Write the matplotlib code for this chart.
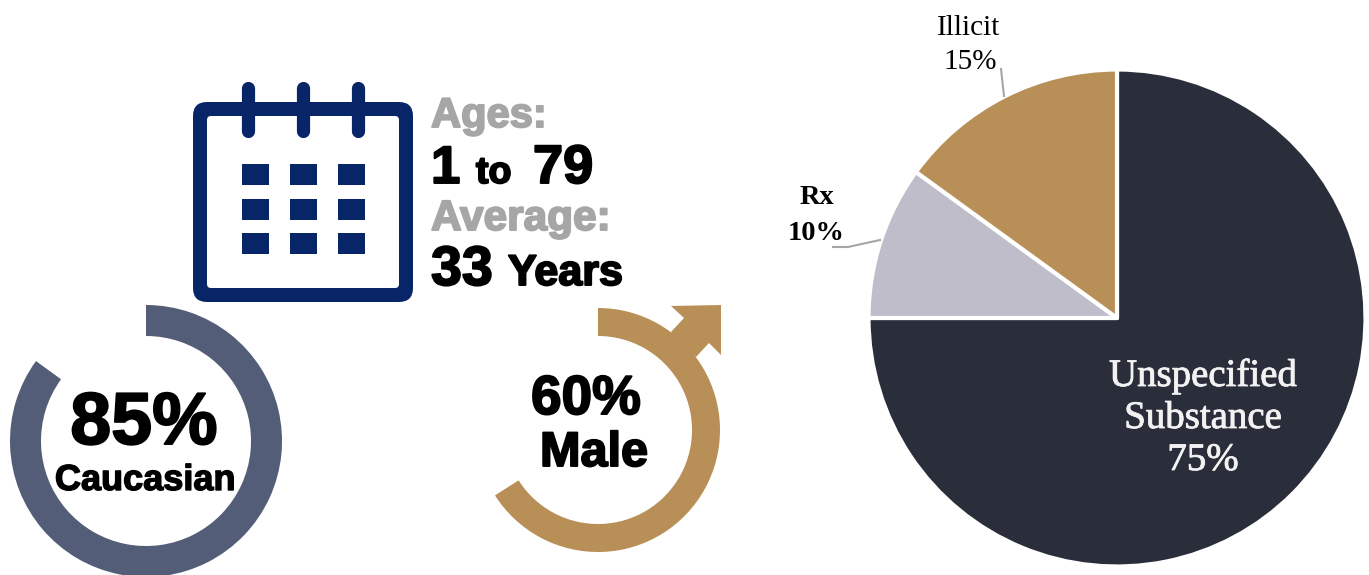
"""Demographics infographic: age, ethnicity, sex and substance type."""
import matplotlib
matplotlib.use("Agg")
import matplotlib.patheffects as pe
import matplotlib.pyplot as plt
from matplotlib.patches import FancyBboxPatch, Polygon, Rectangle

W, H = 1369, 575
NAVY = "#082567"
SLATE = "#535d78"
TAN = "#b98f58"
DARK = "#2a2d3a"
LILAC = "#c0bdcb"
GREY = "#a6a6a6"
SANS = "Liberation Sans"
SERIF = "Liberation Serif"

pie_labels = ["Unspecified Substance", "Rx", "Illicit"]
pie_values = [75, 10, 15]
pie_colors = [DARK, LILAC, TAN]
caucasian_arc = [85, 15]
male_arc = [66, 34]


def y_up(py):
    return H - py


def heavy(ax, x, py, s, size, color="black", ha="left", stroke=1.4):
    # no Arial Black here, so fatten the bold face with a stroke
    ax.text(x, y_up(py), s, fontsize=size, color=color, ha=ha, va="baseline",
            family=SANS, fontweight="bold",
            path_effects=[pe.withStroke(linewidth=stroke, foreground=color)])


def serif(ax, x, py, s, size, color="black", weight="normal", stroke=0.0):
    effects = [pe.withStroke(linewidth=stroke, foreground=color)] if stroke else None
    ax.text(x, y_up(py), s, fontsize=size, color=color, ha="center", va="baseline",
            family=SERIF, fontweight=weight, path_effects=effects)


def ring(ax, values, color, cx, cy, radius, width):
    ax.pie(values, colors=[color, "none"], startangle=90, counterclock=False,
           center=(cx, y_up(cy)), radius=radius, frame=True,
           wedgeprops={"width": width, "linewidth": 0})


def rounded(ax, left, top, right, bottom, r, color):
    ax.add_patch(FancyBboxPatch((left + r, y_up(bottom) + r),
                                right - left - 2 * r, bottom - top - 2 * r,
                                boxstyle=f"round,pad={r},rounding_size={r}",
                                facecolor=color, linewidth=0))


def draw_calendar(ax):
    rounded(ax, 193, 102, 413, 302, 14, NAVY)
    rounded(ax, 207, 116, 399, 288, 4, "white")
    for x in (248, 303, 358):
        ax.plot([x, x], [y_up(88), y_up(131)], color=NAVY, lw=9.5,
                solid_capstyle="round")
    for left in (242, 290, 338):
        for top in (164, 199, 233):
            ax.add_patch(Rectangle((left, y_up(top + 21)), 27, 21,
                                   facecolor=NAVY, linewidth=0))


fig = plt.figure(figsize=(W / 100, H / 100), dpi=100, facecolor="white")
ax = fig.add_axes([0, 0, 1, 1])

ax.pie(pie_values, colors=pie_colors, startangle=90, counterclock=False,
       center=(1117, y_up(318)), radius=248.5, frame=True,
       wedgeprops={"edgecolor": "white", "linewidth": 3, "joinstyle": "round"})
ring(ax, caucasian_arc, SLATE, 146, 441, 136, 31)
ring(ax, male_arc, TAN, 598, 430, 122, 28)

# arrow head on the male symbol
ax.add_patch(Polygon([(x, y_up(py)) for x, py in [
    (671, 306), (721, 305), (721, 355), (709, 343), (696, 357),
    (680, 345), (671, 332), (684, 318)]], facecolor=TAN, linewidth=0))

draw_calendar(ax)

heavy(ax, 431, 127, "Ages:", 30, GREY)
heavy(ax, 431, 183, "1", 38)
heavy(ax, 476, 183, "to", 27)
heavy(ax, 533, 183, "79", 39)
heavy(ax, 431, 230, "Average:", 30.5, GREY)
heavy(ax, 431, 285, "33", 40)
heavy(ax, 508, 285, "Years", 31)

heavy(ax, 144, 444, "85%", 53, ha="center")
heavy(ax, 145, 490, "Caucasian", 26, ha="center", stroke=1.0)
heavy(ax, 586, 414, "60%", 39.5, ha="center")
heavy(ax, 594, 466, "Male", 35, ha="center")

serif(ax, 969, 35, pie_labels[2], 21)
serif(ax, 970, 69, f"{pie_values[2]}%", 21)
serif(ax, 817, 204, pie_labels[1], 20.5, weight="bold")
serif(ax, 816, 240, f"{pie_values[1]}%", 20.5, weight="bold")
first, second = pie_labels[0].split()
serif(ax, 1203, 386, first, 28, "#f2f2f2", stroke=0.6)
serif(ax, 1203, 428, second, 28, "#f2f2f2", stroke=0.6)
serif(ax, 1203, 470, f"{pie_values[0]}%", 28, "#f2f2f2", stroke=0.6)

# leader lines
ax.plot([1001, 1004], [y_up(69), y_up(96)], color=GREY, lw=1.5)
ax.plot([833, 848, 880], [y_up(247), y_up(247), y_up(240)], color=GREY, lw=1.5)

ax.set_xlim(0, W)
ax.set_ylim(0, H)
ax.set_axis_off()
fig.savefig("out.png", dpi=100)
plt.close(fig)
